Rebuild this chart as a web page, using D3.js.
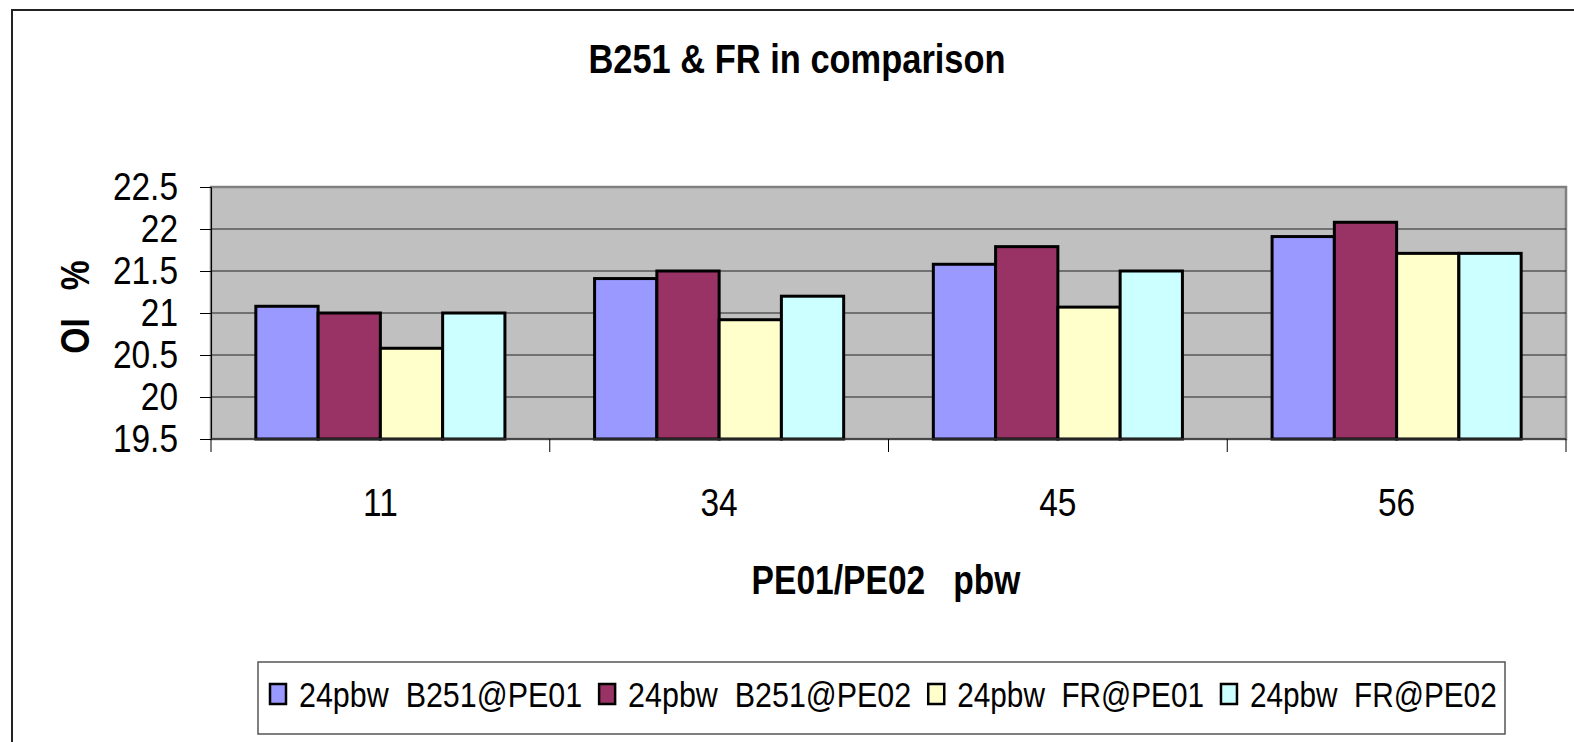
<!DOCTYPE html>
<html>
<head>
<meta charset="utf-8">
<script src="https://cdn.jsdelivr.net/npm/d3@7"></script>
<style>
  html, body { margin: 0; padding: 0; background: #fff; }
  svg text { font-family: "Liberation Sans", Arial, sans-serif; white-space: pre; fill: #000; }
</style>
</head>
<body>
<div class="chart"></div>
<script>
var categories = ["11", "34", "45", "56"];
var seriesNames = ["24pbw  B251@PE01", "24pbw  B251@PE02", "24pbw  FR@PE01", "24pbw  FR@PE02"];
var seriesColors = ["#9999FF", "#993366", "#FFFFCC", "#CCFFFF"];
var b251PE01 = [21.08, 21.41, 21.58, 21.91];
var b251PE02 = [21.0, 21.5, 21.79, 22.08];
var frPE01 = [20.58, 20.92, 21.07, 21.71];
var frPE02 = [21.0, 21.2, 21.5, 21.71];
var yTicks = [19.5, 20, 20.5, 21, 21.5, 22, 22.5];

var series = [b251PE01, b251PE02, frPE01, frPE02];

var width = 1574, height = 742;
var plot = { left: 211, right: 1566, top: 187, bottom: 439 };

var svg = d3.select('.chart')
  .append('svg')
    .attr('width', width)
    .attr('height', height);

// outer chart border (runs off the canvas on right / bottom)
svg.append('rect')
  .attr('x', 12).attr('y', 10)
  .attr('width', 1600).attr('height', 800)
  .attr('fill', '#fff')
  .attr('stroke', '#222')
  .attr('stroke-width', 2);

function label(x, y, str, size, weight, sx, anchor, rot) {
  return svg.append('text')
    .attr('transform', `translate(${x}, ${y})` + (rot ? ` rotate(${rot})` : '') + ` scale(${sx}, 1)`)
    .attr('text-anchor', anchor || 'middle')
    .style('font-size', size + 'px')
    .style('font-weight', weight)
    .text(str);
}

var x0 = d3.scaleBand()
  .domain(categories)
  .range([plot.left, plot.right]);

var x1 = d3.scaleBand()
  .domain(d3.range(series.length))
  .range([0, x0.bandwidth()])
  .paddingOuter(0.72);

var y = d3.scaleLinear()
  .domain([19.5, 22.5])
  .range([plot.bottom, plot.top]);

// plot background
svg.append('rect')
  .attr('x', plot.left).attr('y', plot.top)
  .attr('width', plot.right - plot.left)
  .attr('height', plot.bottom - plot.top)
  .attr('fill', '#C0C0C0')
  .attr('stroke', '#808080')
  .attr('stroke-width', 2.5);

// gridlines
svg.append('g')
  .selectAll('line')
  .data(yTicks.slice(1, -1))
  .join('line')
    .attr('x1', plot.left).attr('x2', plot.right)
    .attr('y1', d => y(d)).attr('y2', d => y(d))
    .attr('stroke', '#222')
    .attr('stroke-width', 1);

// bars
categories.forEach(function(cat, ci) {
  svg.append('g')
    .selectAll('rect')
    .data(series.map((s, si) => ({ si: si, v: s[ci] })))
    .join('rect')
      .attr('x', d => x0(cat) + x1(d.si))
      .attr('y', d => y(d.v))
      .attr('width', x1.bandwidth())
      .attr('height', d => y(19.5) - y(d.v))
      .attr('fill', d => seriesColors[d.si])
      .attr('stroke', '#000')
      .attr('stroke-width', 3);
});

// y axis
var yAxis = d3.axisLeft(y).tickValues(yTicks).tickSize(11).tickFormat('');
svg.append('g')
  .attr('transform', `translate(${plot.left}, 0)`)
  .call(yAxis)
  .call(g => g.select('.domain').attr('stroke', '#000').attr('stroke-width', 1));

yTicks.forEach(function(t) {
  label(178, y(t) + 13, d3.format('')(t), 38, 'normal', 0.88, 'end');
});

// x axis
var boundaries = categories.map(c => x0(c)).concat([plot.right]);
svg.append('line')
  .attr('x1', plot.left).attr('x2', plot.right)
  .attr('y1', plot.bottom).attr('y2', plot.bottom)
  .attr('stroke', '#333').attr('stroke-width', 1.5);
svg.append('g')
  .selectAll('line')
  .data(boundaries)
  .join('line')
    .attr('x1', d => d).attr('x2', d => d)
    .attr('y1', plot.bottom).attr('y2', plot.bottom + 13)
    .attr('stroke', '#000').attr('stroke-width', 1);

categories.forEach(function(c) {
  label(x0(c) + x0.bandwidth() / 2, 516, c, 38, 'normal', 0.88, 'middle');
});

// titles
label(797, 73, 'B251 & FR in comparison', 41, 'bold', 0.84, 'middle');
label(886, 594, 'PE01/PE02   pbw', 40, 'bold', 0.84, 'middle');
label(89, 307, 'OI   %', 40, 'bold', 0.84, 'middle', -90);

// legend
svg.append('rect')
  .attr('x', 258).attr('y', 662)
  .attr('width', 1247).attr('height', 72)
  .attr('fill', '#fff')
  .attr('stroke', '#555')
  .attr('stroke-width', 1.5);

var lx = 270;
seriesNames.forEach(function(name, i) {
  svg.append('rect')
    .attr('x', lx).attr('y', 684)
    .attr('width', 16).attr('height', 20)
    .attr('fill', seriesColors[i])
    .attr('stroke', '#000')
    .attr('stroke-width', 2.5);
  var sx = i < 2 ? 0.87 : 0.85;
  var t = label(lx + 29, 707, name, 35, 'normal', sx, 'start');
  lx = lx + 29 + t.node().getComputedTextLength() * sx + 17;
});
</script>
</body>
</html>
